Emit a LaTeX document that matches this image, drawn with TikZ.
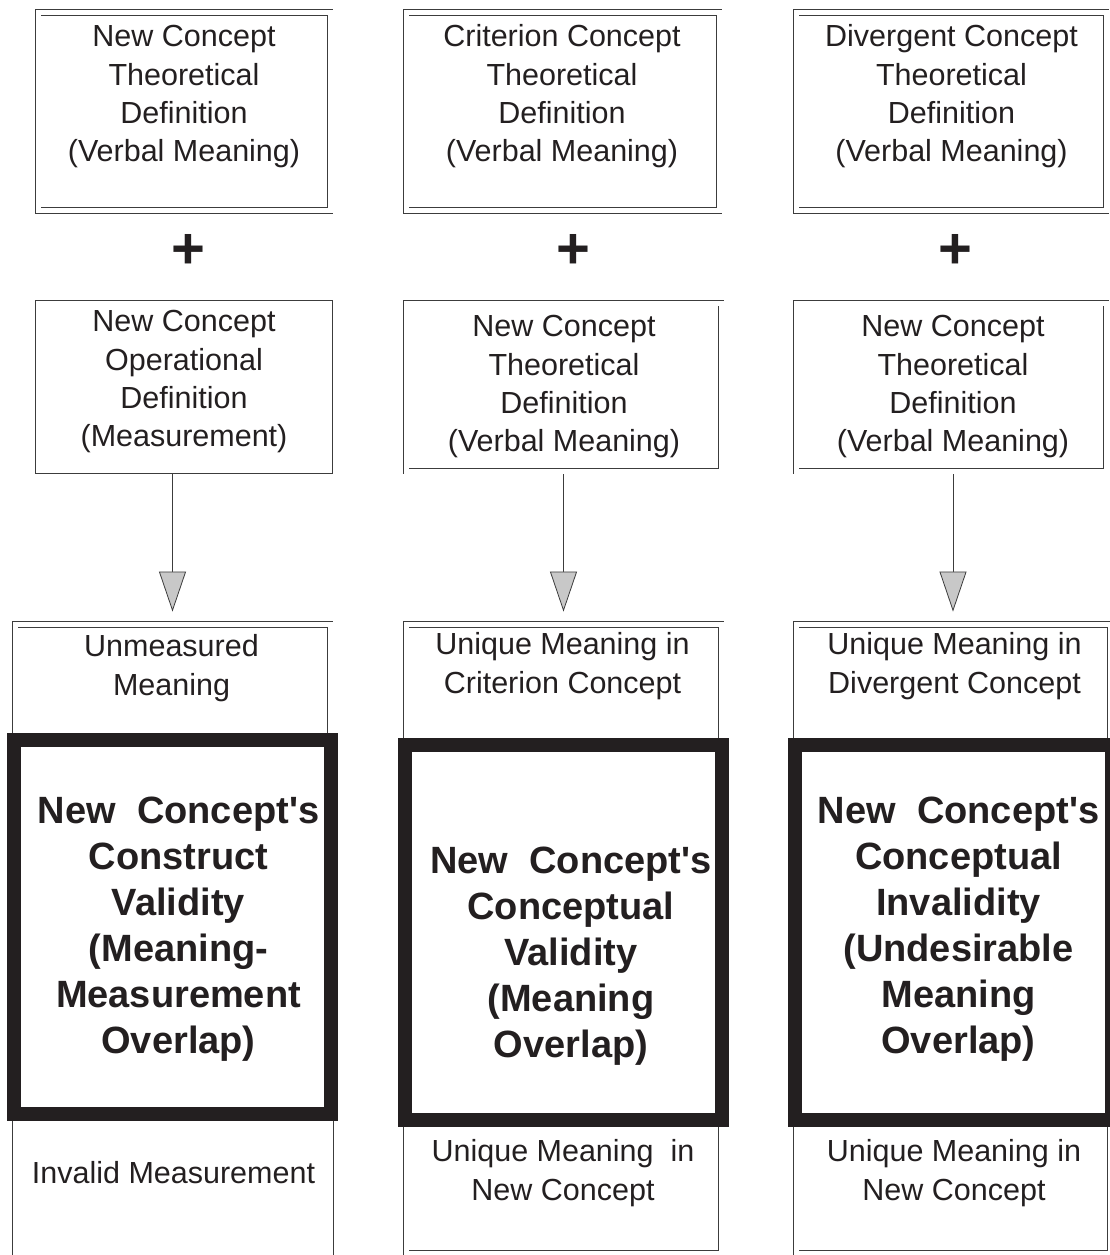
\documentclass[tikz,border=0pt]{standalone}
\usepackage{fontspec}
\setmainfont{Liberation Sans}
\usetikzlibrary{arrows.meta}
\definecolor{ink}{HTML}{231F20}
\definecolor{rule}{HTML}{3C3C3C}
\definecolor{headfill}{HTML}{C8C8C8}
\def\plainfont{\fontsize{30.5}{38.3}\selectfont}
\def\boldfont{\fontsize{38}{46}\selectfont\bfseries}
\def\apos{\textquotesingle}

\begin{document}
\begin{tikzpicture}[x=1pt,y=-1pt,
    singlebox/.style={draw=rule,line width=0.9pt,inner sep=0pt},
    doublebox/.style={singlebox,double,double distance=5pt},
    heavybox/.style={draw=ink,line width=14pt,fill=white,inner sep=0pt},
    txt/.style={text=ink,font=\plainfont,align=center,anchor=base,inner sep=0pt},
    bigtxt/.style={text=ink,font=\boldfont,align=center,anchor=base,inner sep=0pt},
    plussign/.style={text=ink,font=\fontsize{58}{58}\selectfont\bfseries,inner sep=0pt},
    arrowline/.style={draw=rule,line width=0.8pt,-{Triangle[length=40pt,width=27pt,fill=headfill]}}]
  \useasboundingbox (0,0) rectangle (1110,1255);
  \clip (0,0) rectangle (1110,1255);

  \node[doublebox,minimum width=292pt,minimum height=198pt] (c1top) at (184,111.5) {};
  \node[doublebox,minimum width=313pt,minimum height=198pt] (c2top) at (562.5,111.5) {};
  \node[doublebox,minimum width=310pt,minimum height=198pt] (c3top) at (951,111.5) {};

  \node[plussign] (p1) at (188,251) {+};
  \node[plussign] (p2) at (573,251) {+};
  \node[plussign] (p3) at (955,251) {+};

  \node[singlebox,minimum width=297pt,minimum height=173pt] (c1op) at (184,387) {};
  \node[doublebox,minimum width=315pt,minimum height=168pt] (c2mid) at (563.5,387) {};
  \node[doublebox,minimum width=310pt,minimum height=168pt] (c3mid) at (951,387) {};

  \node[doublebox,minimum width=315pt,minimum height=136pt] (c1un) at (172.5,692.5) {};
  \node[singlebox,minimum width=321pt,minimum height=170pt] (c1inv) at (172.5,1185) {};
  \node[doublebox,minimum width=315pt,minimum height=136pt] (c2un) at (563.5,692.5) {};
  \node[doublebox,minimum width=315pt,minimum height=154pt] (c2nc) at (563.5,1176.5) {};
  \node[doublebox,minimum width=314pt,minimum height=136pt] (c3un) at (953,692.5) {};
  \node[doublebox,minimum width=314pt,minimum height=154pt] (c3nc) at (953,1176.5) {};

  \draw[arrowline,shorten >=12.5pt] (c1op.south -| c1un.north) -- (c1un.north);
  \draw[arrowline,shorten <=3pt,shorten >=12.5pt] (c2mid.south -| c2un.north) -- (c2un.north);
  \draw[arrowline,shorten <=3pt,shorten >=12.5pt] (c3mid.south -| c3un.north) -- (c3un.north);

  \node[heavybox,minimum width=317pt,minimum height=374pt] (c1cv) at (172.5,927) {};
  \node[heavybox,minimum width=317.5pt,minimum height=375pt] (c2cv) at (563.25,932) {};
  \node[heavybox,minimum width=317pt,minimum height=375pt] (c3cv) at (953.5,932) {};

  \node[txt] (c1topt) at (184,161.6) {New Concept\\Theoretical\\Definition\\(Verbal Meaning)};
  \node[txt] (c2topt) at (562,161.6) {Criterion Concept\\Theoretical\\Definition\\(Verbal Meaning)};
  \node[txt] (c3topt) at (951.5,161.6) {Divergent Concept\\Theoretical\\Definition\\(Verbal Meaning)};

  \node[txt] (c1opt) at (184,446.6) {New Concept\\Operational\\Definition\\(Measurement)};
  \node[txt] (c2midt) at (564,451.6) {New Concept\\Theoretical\\Definition\\(Verbal Meaning)};
  \node[txt] (c3midt) at (953,451.6) {New Concept\\Theoretical\\Definition\\(Verbal Meaning)};

  \node[txt] (c1unt) at (171.5,695) {Unmeasured\\Meaning};
  \node[txt] (c2unt) at (562.5,693) {Unique Meaning in\\Criterion Concept};
  \node[txt] (c3unt) at (954.5,693) {Unique Meaning in\\Divergent Concept};

  \node[bigtxt] (c1cvt) at (178.5,1053) {New\ \ Concept\apos{}s\\Construct\\Validity\\(Meaning-\\Measurement\\Overlap)};
  \node[bigtxt] (c2cvt) at (571,1057) {New\ \ Concept\apos{}s\\Conceptual\\Validity\\(Meaning\\Overlap)};
  \node[bigtxt] (c3cvt) at (958.5,1053) {New\ \ Concept\apos{}s\\Conceptual\\Invalidity\\(Undesirable\\Meaning\\Overlap)};

  \node[txt] (c1invt) at (173.5,1183) {Invalid Measurement};
  \node[txt] (c2nct) at (563,1200) {Unique Meaning\ \ in\\New Concept};
  \node[txt] (c3nct) at (954,1200) {Unique Meaning in\\New Concept};
\end{tikzpicture}
\end{document}
